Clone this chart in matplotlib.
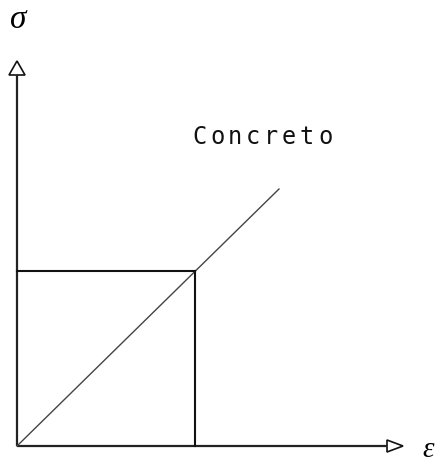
import matplotlib
matplotlib.use('Agg')
import matplotlib.pyplot as plt
from matplotlib.patches import Polygon

# diagram values (drawing units, origin at the axes corner)
line_eps = [0, 262]          # Concreto line
line_sig = [0, 257]
point_eps = 178              # marked point on the line
point_sig = 175
axis_len_x = 370             # length of strain axis
axis_len_y = 371             # length of stress axis
label_text = 'Concreto'

fig = plt.figure(figsize=(4.41, 4.63), dpi=100)
ax = fig.add_axes([0, 0, 1, 1])
ax.set_xlim(-17, 424)
ax.set_ylim(-17, 446)
ax.axis('off')

# axes lines
ax.plot([0, axis_len_x], [0, 0], color='#222222', lw=1.6, solid_capstyle='butt')
ax.plot([0, 0], [0, axis_len_y], color='#222222', lw=1.6, solid_capstyle='butt')

# hollow arrow heads
ax.add_patch(Polygon([[axis_len_x, -6], [axis_len_x, 6], [axis_len_x + 16, 0]],
                     closed=True, fill=False, ec='#111111', lw=1.2))
ax.add_patch(Polygon([[-8, axis_len_y], [8, axis_len_y], [0, axis_len_y + 14]],
                     closed=True, fill=False, ec='#111111', lw=1.2))

# Concreto line
ax.plot(line_eps, line_sig, color='#444444', lw=1.0)

# projection lines of the marked point
ax.plot([0, point_eps], [point_sig, point_sig], color='#111111', lw=1.5)
ax.plot([point_eps, point_eps], [0, point_sig], color='#111111', lw=1.5)

# label, character by character to mimic the wide plotter font
x0 = 182
for i, ch in enumerate(label_text):
    ax.text(x0 + 18 * i, 309, ch, family='DejaVu Sans Mono', fontsize=17,
            ha='center', va='center', color='#111111')

# axis symbols
ax.text(1, 418, 'σ', fontsize=24, ha='center', va='baseline',
        family='Liberation Serif', style='italic')
ax.text(411, -11, 'ε', fontsize=21, ha='center', va='baseline',
        family='Liberation Serif', style='italic')

fig.savefig('out.png', dpi=100)
